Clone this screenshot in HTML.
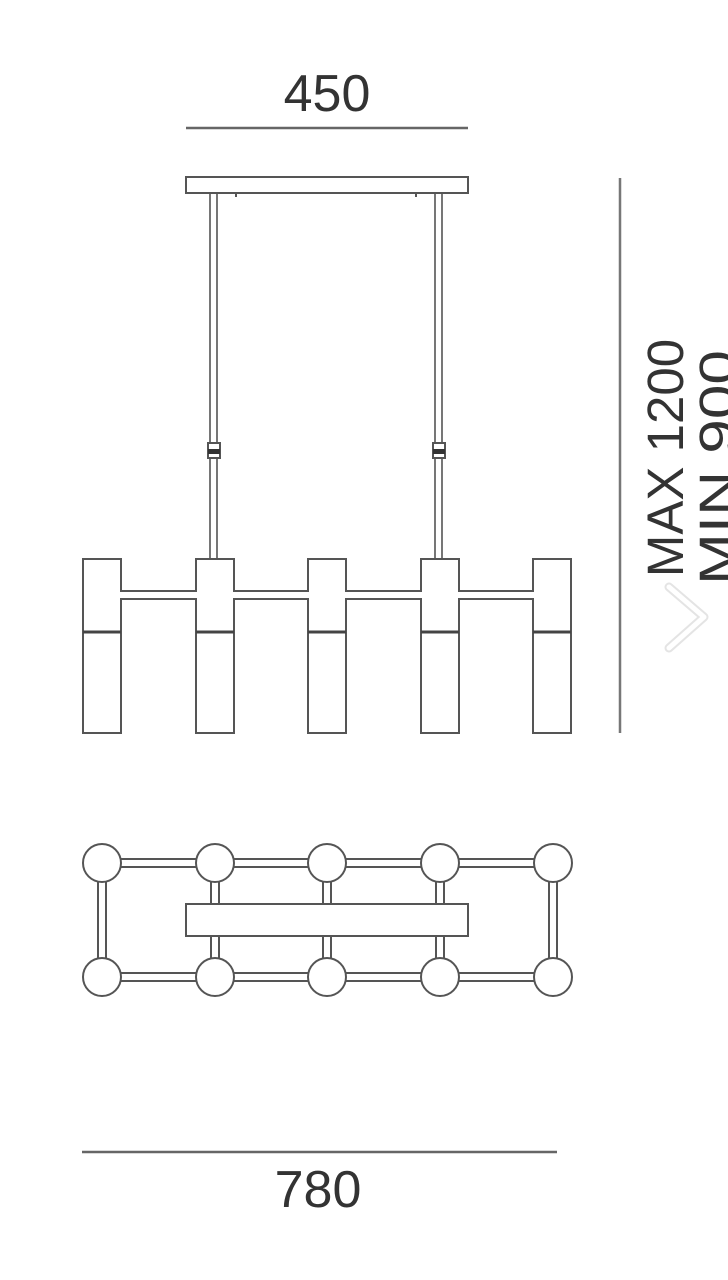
<!DOCTYPE html>
<html><head><meta charset="utf-8"><style>
html,body{margin:0;padding:0;background:#fff;}
svg{display:block;}
text{font-family:"Liberation Sans",sans-serif;fill:#333;}
</style></head><body>
<svg width="728" height="1280" viewBox="0 0 728 1280" xmlns="http://www.w3.org/2000/svg">
<g stroke="#555" fill="none" stroke-width="2">
<line x1="186" y1="128" x2="468" y2="128" stroke="#666" stroke-width="2.5"/>
<line x1="620" y1="178" x2="620" y2="733" stroke="#777" stroke-width="2.5"/>
<line x1="82" y1="1152" x2="557" y2="1152" stroke="#666" stroke-width="2.5"/>

<rect x="186" y="177" width="282" height="16" fill="#fff"/>
<path d="M236 193v4M416 193v4" stroke-width="2"/>
<path d="M210 193V559M217 193V559M435 193V559M442 193V559" stroke-width="1.6"/>
<rect x="208" y="443" width="12" height="15" fill="#fff"/>
<rect x="208" y="449" width="12" height="5" fill="#333" stroke="none"/>
<rect x="433" y="443" width="12" height="15" fill="#fff"/>
<rect x="433" y="449" width="12" height="5" fill="#333" stroke="none"/>

<rect x="83" y="559" width="38" height="174" fill="#fff"/>
<rect x="196" y="559" width="38" height="174" fill="#fff"/>
<rect x="308" y="559" width="38" height="174" fill="#fff"/>
<rect x="421" y="559" width="38" height="174" fill="#fff"/>
<rect x="533" y="559" width="38" height="174" fill="#fff"/>
<g>
<rect x="119" y="592" width="79" height="6" fill="#fff" stroke="none"/>
<rect x="232" y="592" width="78" height="6" fill="#fff" stroke="none"/>
<rect x="344" y="592" width="79" height="6" fill="#fff" stroke="none"/>
<rect x="457" y="592" width="78" height="6" fill="#fff" stroke="none"/>
<path d="M121 591H196M121 599H196M234 591H308M234 599H308M346 591H421M346 599H421M459 591H533M459 599H533"/>
</g>
<path d="M83 632H121M196 632H234M308 632H346M421 632H459M533 632H571" stroke-width="3" stroke="#444"/>

<path d="M102 859H553M102 867H553M102 973H553M102 981H553"/>
<rect x="103" y="860" width="450" height="6" fill="#fff" stroke="none"/>
<rect x="103" y="974" width="450" height="6" fill="#fff" stroke="none"/>
<path d="M98 863V977M106 863V977M211 863V977M219 863V977M323 863V977M331 863V977M436 863V977M444 863V977M549 863V977M557 863V977"/>
<rect x="186" y="904" width="282" height="32" fill="#fff"/>
<g fill="#fff">
<circle cx="102" cy="863" r="19"/><circle cx="215" cy="863" r="19"/><circle cx="327" cy="863" r="19"/><circle cx="440" cy="863" r="19"/><circle cx="553" cy="863" r="19"/>
<circle cx="102" cy="977" r="19"/><circle cx="215" cy="977" r="19"/><circle cx="327" cy="977" r="19"/><circle cx="440" cy="977" r="19"/><circle cx="553" cy="977" r="19"/>
</g>
</g>

<path d="M669 587L704 617L669 648" fill="none" stroke="#e4e4e4" stroke-width="9" stroke-linecap="round" stroke-linejoin="round"/>
<path d="M669 587L704 617L669 648" fill="none" stroke="#fff" stroke-width="5" stroke-linecap="round" stroke-linejoin="round"/>

<text x="327" y="111" font-size="52" text-anchor="middle">450</text>
<text x="318" y="1207" font-size="52" text-anchor="middle">780</text>
<text transform="translate(683,458) rotate(-90)" font-size="51" text-anchor="middle">MAX 1200</text>
<text transform="translate(735,585) rotate(-90)" font-size="51" textLength="235" lengthAdjust="spacingAndGlyphs">MIN 900</text>
</svg>
</body></html>
